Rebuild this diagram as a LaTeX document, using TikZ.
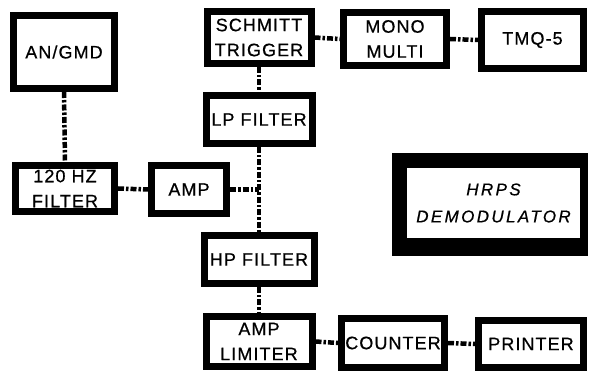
\documentclass[tikz,border=0pt]{standalone}
\usepackage{fontspec}
\setmainfont{Liberation Sans}[LetterSpace=6,FakeBold=0.6]
\usetikzlibrary{calc}
\begin{document}
\begin{tikzpicture}[x=1pt,y=-1pt,
  blk/.style={draw=black,line width=7pt,fill=white,align=center,inner sep=0pt,
    font=\fontsize{18}{25}\selectfont},
  conn/.style={line width=4.5pt,dash pattern=on 6pt off 2pt on 2.5pt off 2pt}]
\useasboundingbox (0,0) rectangle (589,371);
\node[blk,minimum width=101pt,minimum height=73pt] (gmd) at (64,52) {AN/GMD};
\node[blk,minimum width=104pt,minimum height=52pt] (sch) at (259,37.5) {SCHMITT\\TRIGGER};
\node[blk,minimum width=103pt,minimum height=53pt] (mono) at (395,39) {MONO\\MULTI};
\node[blk,minimum width=102pt,minimum height=57pt] (tmq) at (532.5,40) {TMQ-5};
\node[blk,minimum width=106pt,minimum height=48pt] (lp) at (259,119.5) {LP FILTER};
\node[blk,minimum width=99pt,minimum height=46pt] (hz) at (65,188.5) {120 HZ\\FILTER};
\node[blk,minimum width=75pt,minimum height=48pt] (amp) at (189,189.5) {AMP};
\node[blk,minimum width=110pt,minimum height=48pt] (hp) at (259,259.5) {HP FILTER};
\node[blk,minimum width=106pt,minimum height=50pt] (lim) at (259,341.5) {AMP\\LIMITER};
\node[blk,minimum width=103pt,minimum height=49pt] (cnt) at (393,343) {COUNTER};
\node[blk,minimum width=105pt,minimum height=47pt] (prn) at (531,344) {PRINTER};
% HRPS demodulator block
\fill[black] (392,153) rectangle (588,256);
\node[fill=white,minimum width=173pt,minimum height=70pt,inner sep=0pt,align=center,
  font=\fontsize{17}{27}\selectfont\itshape\addfontfeatures{LetterSpace=14}] (hrps) at (493.5,203) {HRPS\\DEMODULATOR};
% connectors
\draw[conn] (gmd.south) -- (hz.north);
\draw[conn] (sch.south) -- (lp.north);
\draw[conn] (lp.south) -- (hp.north);
\draw[conn] (hp.south) -- (lim.north);
\draw[conn] (sch.east) -- (mono.west);
\draw[conn] (mono.east) -- (tmq.west);
\draw[conn] (hz.east) -- (amp.west);
\draw[conn] (amp.east) -- (amp.east -| lp.south);
\draw[conn] (lim.east) -- (cnt.west);
\draw[conn] (cnt.east) -- (prn.west);
\end{tikzpicture}
\end{document}
